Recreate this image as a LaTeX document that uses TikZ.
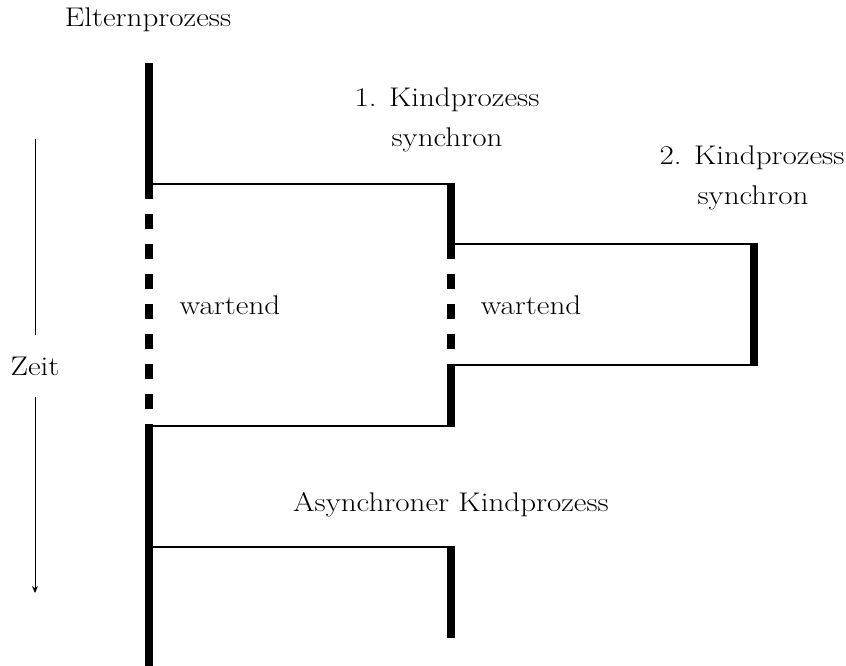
\documentclass[tikz,border=0pt]{standalone}
\usetikzlibrary{arrows.meta}
\newcommand\stxt[1]{\scalebox{1.15}[1]{#1}}
\begin{document}
\begin{tikzpicture}[x=1pt,y=-1pt,
  lbl/.style={font=\fontsize{27}{32}\selectfont, inner sep=0pt},
  proc/.style={line width=8pt, line cap=butt},
  waitproc/.style={line width=8pt, line cap=butt, dash pattern=on 15pt off 15pt, dash phase=15pt},
  call/.style={line width=1.3pt},
  timeax/.style={line width=0.9pt}]
\useasboundingbox (0,0) rectangle (846,666);
% coordinates
\coordinate (p0) at (149,63);
\coordinate (p1) at (149,199);
\coordinate (p2) at (149,425);
\coordinate (p3) at (149,666);
\coordinate (pc1) at (145,184);
\coordinate (pr1) at (145,426);
\coordinate (pa) at (145,547);
\coordinate (c1a) at (451,184);
\coordinate (c1b) at (451,259);
\coordinate (c1c) at (451,367);
\coordinate (c1d) at (451,427);
\coordinate (c1s) at (455,244);
\coordinate (c1r) at (455,365);
\coordinate (c2a) at (754,244);
\coordinate (c2b) at (754,365);
\coordinate (aa) at (451,547);
\coordinate (ab) at (451,638);
\coordinate (t0) at (35,139);
\coordinate (t1) at (35,335);
\coordinate (t2) at (35,397);
\coordinate (t3) at (35,593);
% labels
\node[lbl] (eltern) at (148,20) {\stxt{Elternprozess}};
\node[lbl] (k1a) at (447,100) {\stxt{1. Kindprozess}};
\node[lbl] (k1b) at (447,140) {\stxt{synchron}};
\node[lbl] (k2a) at (752,158) {\stxt{2. Kindprozess}};
\node[lbl] (k2b) at (753,198) {\stxt{synchron}};
\node[lbl] (w1) at (230,305) {\stxt{wartend}};
\node[lbl] (w2) at (531,305) {\stxt{wartend}};
\node[lbl] (async) at (451,505) {\stxt{Asynchroner Kindprozess}};
\node[lbl] (zeit) at (35,366) {\stxt{Zeit}};
% parent
\draw[proc] (p0) -- (p1);
\draw[waitproc] (p1) -- (p2);
\draw[proc] (p2) -- (p3);
% child 1
\draw[call] (pc1) -- (pc1 -| c1s);
\draw[proc] ([yshift=-0.5pt]c1a) -- (c1b);
\draw[waitproc] (c1b) -- (c1c);
\draw[proc] (c1c) -- (c1d);
\draw[call] (pr1) -- (pr1 -| c1s);
% child 2
\draw[call] (c1s) -- ([xshift=4pt]c2a);
\draw[proc] (c2a) -- (c2b);
\draw[call] (c1r) -- ([xshift=4pt]c2b);
% async child
\draw[call] (pa) -- (pa -| c1s);
\draw[proc] ([yshift=-0.5pt]aa) -- (ab);
% time axis
\draw[timeax] (t0) -- (t1);
\draw[timeax, -{Stealth[length=7pt,width=6pt]}] (t2) -- (t3);
\end{tikzpicture}
\end{document}
